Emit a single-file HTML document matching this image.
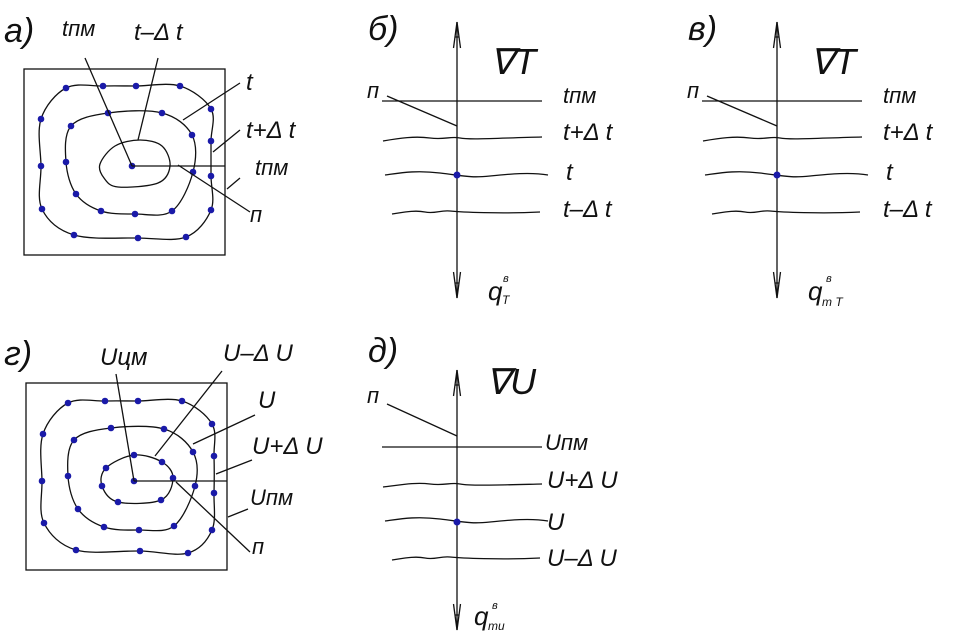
<!DOCTYPE html>
<html><head><meta charset="utf-8"><style>
html,body{margin:0;padding:0;background:#fff}
svg{display:block}
text{font-family:"Liberation Sans",sans-serif;font-style:italic;fill:#111}
.l{stroke:#111;stroke-width:1.3;fill:none}
.d{fill:#1a1aa8}
</style></head><body>
<svg id="s" width="953" height="636" viewBox="0 0 953 636" xmlns="http://www.w3.org/2000/svg">
<g id="g"></g>
<!-- panel a -->
<rect x="24" y="69" width="201" height="186" class="l"/>
<line x1="132" y1="166" x2="225" y2="166" class="l"/>
<line x1="85" y1="58" x2="132" y2="166" class="l"/>
<line x1="158" y1="58" x2="138" y2="140" class="l"/>
<line x1="240" y1="83" x2="183" y2="120" class="l"/>
<line x1="240" y1="130" x2="213" y2="152" class="l"/>
<line x1="240" y1="178" x2="227" y2="189" class="l"/>
<line x1="250" y1="212" x2="178" y2="165" class="l"/>
<text x="4" y="42" font-size="34">а)</text>
<text x="62" y="36" font-size="22">tпм</text>
<text x="134" y="40" font-size="24">t–Δ t</text>
<text x="246" y="90" font-size="24">t</text>
<text x="246" y="138" font-size="24">t+Δ t</text>
<text x="255" y="175" font-size="22">tпм</text>
<text x="250" y="222" font-size="22">п</text>
<!-- panel g -->
<rect x="26" y="383" width="201" height="187" class="l"/>
<line x1="134" y1="481" x2="227" y2="481" class="l"/>
<line x1="116" y1="374" x2="134" y2="481" class="l"/>
<line x1="222" y1="371" x2="155" y2="456" class="l"/>
<line x1="255" y1="415" x2="193" y2="444" class="l"/>
<line x1="252" y1="460" x2="216" y2="474" class="l"/>
<line x1="248" y1="509" x2="228" y2="517" class="l"/>
<line x1="250" y1="552" x2="176" y2="482" class="l"/>
<text x="4" y="365" font-size="34">г)</text>
<text x="100" y="365" font-size="24">Uцм</text>
<text x="223" y="361" font-size="24">U–Δ U</text>
<text x="258" y="408" font-size="24">U</text>
<text x="252" y="454" font-size="24">U+Δ U</text>
<text x="250" y="505" font-size="22">Uпм</text>
<text x="252" y="554" font-size="22">п</text>
<!-- panel b -->
<g id="pb">
<line x1="457" y1="22" x2="457" y2="298" class="l"/>
<line x1="382" y1="101" x2="542" y2="101" class="l"/>
<line x1="387" y1="96" x2="457" y2="126" class="l"/>
<path class="l" d="M383,141 C400,138 415,136 430,138 S450,136 460,138 S500,138 542,137"/>
<path class="l" d="M385,175 C400,173 415,170 440,173 S470,178 490,176 S530,172 548,175"/>
<path class="l" d="M392,214 C405,212 415,210 425,212 S440,210 450,211 S500,214 540,212"/>
<circle cx="457" cy="175" r="3.5" class="d"/>
<text x="367" y="98" font-size="22">п</text>
</g>
<text x="368" y="40" font-size="34">б)</text>
<text x="490" y="74" font-size="36">∇T</text>
<text x="563" y="103" font-size="22">tпм</text>
<text x="563" y="140" font-size="24">t+Δ t</text>
<text x="566" y="180" font-size="24">t</text>
<text x="563" y="217" font-size="24">t–Δ t</text>
<text x="488" y="300" font-size="26">q</text><text x="502" y="304" font-size="12">T</text><text x="503" y="282" font-size="11">в</text>
<!-- panel v -->
<use href="#pb" x="320" y="0"/>
<text x="688" y="40" font-size="34">в)</text>
<text x="810" y="74" font-size="36">∇T</text>
<text x="883" y="103" font-size="22">tпм</text>
<text x="883" y="140" font-size="24">t+Δ t</text>
<text x="886" y="180" font-size="24">t</text>
<text x="883" y="217" font-size="24">t–Δ t</text>
<text x="808" y="300" font-size="26">q</text><text x="822" y="306" font-size="12">m T</text><text x="826" y="282" font-size="11">в</text>
<!-- panel d -->
<line x1="457" y1="370" x2="457" y2="630" class="l"/>
<line x1="382" y1="447" x2="542" y2="447" class="l"/>
<line x1="387" y1="404" x2="457" y2="436" class="l"/>
<path class="l" d="M383,487 C400,485 415,482 430,484 S450,482 460,484 S500,485 542,484"/>
<path class="l" d="M385,521 C400,519 415,516 440,519 S470,524 490,522 S530,518 548,521"/>
<path class="l" d="M392,560 C405,558 415,556 425,558 S440,556 450,557 S500,560 540,558"/>
<circle cx="457" cy="522" r="3.5" class="d"/>
<text x="367" y="403" font-size="22">п</text>
<text x="368" y="362" font-size="34">д)</text>
<text x="486" y="394" font-size="36">∇U</text>
<text x="545" y="450" font-size="22">Uпм</text>
<text x="547" y="488" font-size="24">U+Δ U</text>
<text x="547" y="530" font-size="24">U</text>
<text x="547" y="566" font-size="24">U–Δ U</text>
<text x="474" y="625" font-size="26">q</text><text x="488" y="630" font-size="12">mu</text><text x="492" y="609" font-size="11">в</text>
</svg>
<script>
var NS="http://www.w3.org/2000/svg",g=document.getElementById("g");
function cr(p){var n=p.length,d="M"+p[0][0]+","+p[0][1];
for(var i=0;i<n;i++){var p0=p[(i-1+n)%n],p1=p[i],p2=p[(i+1)%n],p3=p[(i+2)%n];
d+=" C"+(p1[0]+(p2[0]-p0[0])/6)+","+(p1[1]+(p2[1]-p0[1])/6)+" "+(p2[0]-(p3[0]-p1[0])/6)+","+(p2[1]-(p3[1]-p1[1])/6)+" "+p2[0]+","+p2[1];}
return d+"Z";}
function curve(p,dots){var e=document.createElementNS(NS,"path");e.setAttribute("d",cr(p));e.setAttribute("class","l");g.appendChild(e);
if(dots)p.forEach(function(q){var c=document.createElementNS(NS,"circle");c.setAttribute("cx",q[0]);c.setAttribute("cy",q[1]);c.setAttribute("r",3.3);c.setAttribute("class","d");g.appendChild(c);});}
function dot(x,y){var c=document.createElementNS(NS,"circle");c.setAttribute("cx",x);c.setAttribute("cy",y);c.setAttribute("r",3.3);c.setAttribute("class","d");g.appendChild(c);}
curve([[66,88],[103,86],[136,86],[180,86],[211,109],[211,141],[211,176],[211,210],[186,237],[138,238],[74,235],[42,209],[41,166],[41,119]],true);
curve([[71,126],[108,113],[162,113],[192,135],[193,172],[172,211],[135,214],[101,211],[76,194],[66,162]],true);
curve([[100,164],[115,146],[140,140],[162,146],[170,166],[158,183],[118,187],[104,178]],false);
dot(132,166);
curve([[68,403],[105,401],[138,401],[182,401],[212,424],[214,456],[214,493],[212,530],[188,553],[140,551],[76,550],[44,523],[42,481],[43,434]],true);
curve([[74,440],[111,428],[164,429],[193,452],[195,486],[174,526],[139,530],[104,527],[78,509],[68,476]],true);
curve([[134,455],[162,462],[173,478],[161,500],[118,502],[102,486],[106,468]],true);
dot(134,481);
function arrow(x,y,dir){var e=document.createElementNS(NS,"path");
e.setAttribute("d","M"+x+","+y+" L"+(x-3.5)+","+(y+dir*26)+" M"+x+","+y+" L"+(x+3.5)+","+(y+dir*26)+" M"+(x-2)+","+(y+dir*15)+" L"+(x+2)+","+(y+dir*15));
e.setAttribute("class","l");e.setAttribute("stroke-width","1");g.appendChild(e);}
arrow(457,22,1);arrow(457,298,-1);arrow(777,22,1);arrow(777,298,-1);arrow(457,370,1);arrow(457,630,-1);
</script>
</body></html>
